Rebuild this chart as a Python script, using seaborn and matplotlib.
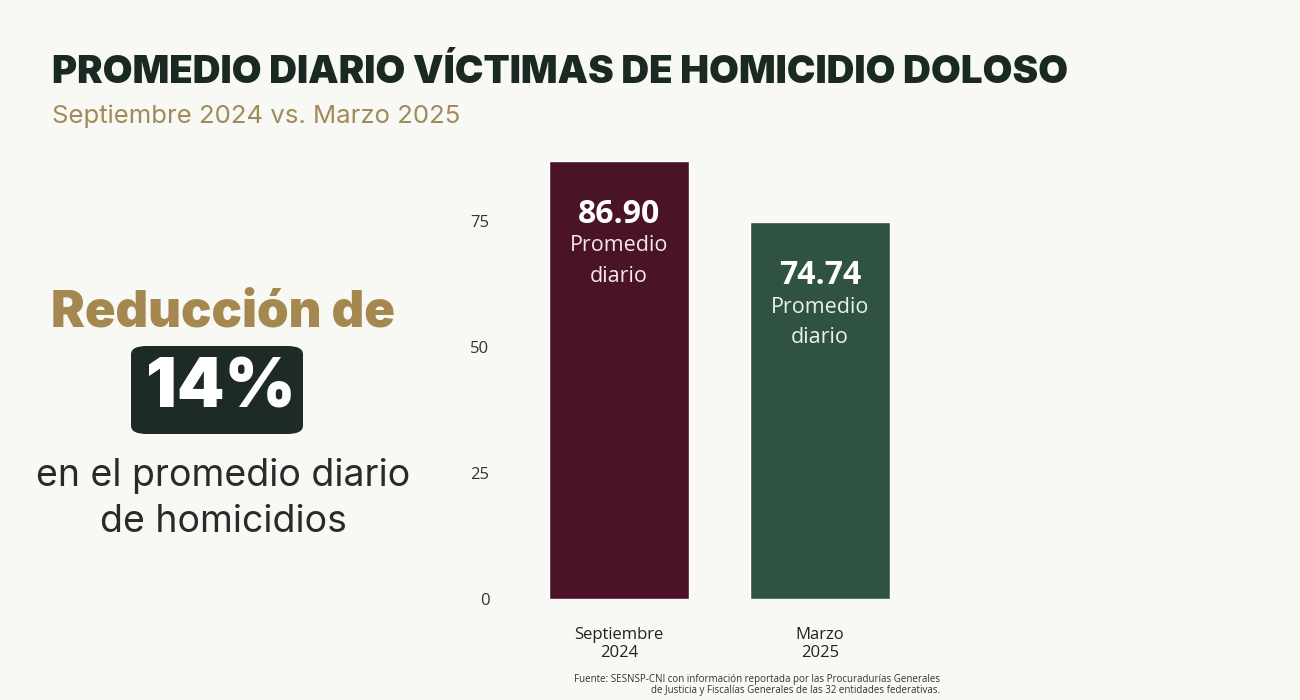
import matplotlib
matplotlib.use("Agg")
import matplotlib.pyplot as plt
import seaborn as sns
import pandas as pd
from matplotlib.patches import FancyBboxPatch

categories = ["Septiembre\n2024", "Marzo\n2025"]
values = [86.90, 74.74]
value_labels = ["86.90", "74.74"]
bar_colors = ["#4a1327", "#2f5241"]
yticks = [0, 25, 50, 75]

sns.set_theme(style="white")
plt.rcParams['font.family'] = ['Open Sans', 'DejaVu Sans']

bg = "#f8f8f4"
fig = plt.figure(figsize=(13, 7), dpi=100, facecolor=bg)
ax = fig.add_axes([0.399, 0.1443, 0.309, 0.6487])
ax.set_facecolor(bg)

df = pd.DataFrame({"cat": categories, "val": values})
sns.barplot(data=df, x="cat", y="val", hue="cat", palette=bar_colors,
            width=0.70, legend=False, ax=ax, saturation=1)
ax.set_xlim(-0.5, 1.5)
ax.set_ylim(0, 90)
ax.set_yticks(yticks)
ax.set_yticklabels([str(t) for t in yticks], fontsize=12, color="#333333")
ax.tick_params(axis="y", length=0, pad=21)
ax.tick_params(axis="x", length=0, pad=20, labelsize=12, labelcolor="#222222")
ax.set_xlabel("")
ax.set_ylabel("")
for s in ax.spines.values():
    s.set_visible(False)

for i, (v, lab) in enumerate(zip(values, value_labels)):
    sub_col = "#f2e8ee" if i == 0 else "#e8f2ec"
    ax.text(i, v - 10.7, lab, ha="center", va="center", fontsize=23,
            fontweight="bold", color="white")
    ax.text(i, v - 16.9, "Promedio", ha="center", va="center",
            fontsize=15.5, color=sub_col)
    ax.text(i, v - 23.0, "diario", ha="center", va="center",
            fontsize=15.5, color=sub_col)

# Titles
fig.text(52 / 1300, 1 - 73 / 700, "PROMEDIO DIARIO VÍCTIMAS DE HOMICIDIO DOLOSO",
         fontsize=27.7, fontweight="black", family=["Inter", "DejaVu Sans"],
         color="#1b2923", va="center", ha="left")
fig.text(52 / 1300, 1 - 116 / 700, "Septiembre 2024 vs. Marzo 2025",
         fontsize=18.5, family=["Inter", "DejaVu Sans"], color="#a08b5b",
         va="center", ha="left")

# Left panel
fig.text(223 / 1300, 1 - 313 / 700, "Reducción de", fontsize=36.5,
         fontweight="black", family=["Inter", "DejaVu Sans"], color="#a5884f",
         ha="center", va="center")
box = FancyBboxPatch((131 / 1300, 1 - 434 / 700), 172 / 1300, 88 / 700,
                     boxstyle="round,pad=0,rounding_size=0.012",
                     transform=fig.transFigure, facecolor="#1d2a25",
                     edgecolor="none")
fig.patches.append(box)
fig.text(221 / 1300, 1 - 390 / 700, "14%", fontsize=49, fontweight="black",
         family=["Inter", "DejaVu Sans"], color="white", ha="center", va="center")
fig.text(223 / 1300, 1 - 476 / 700, "en el promedio diario", fontsize=27,
         family=["Inter", "DejaVu Sans"], color="#2a2a2a", ha="center", va="center")
fig.text(223 / 1300, 1 - 522 / 700, "de homicidios", fontsize=27,
         family=["Inter", "DejaVu Sans"], color="#2a2a2a", ha="center", va="center")

# Source
fig.text(940 / 1300, 1 - 685 / 700,
         "Fuente: SESNSP-CNI con información reportada por las Procuradurías Generales\n"
         "de Justicia y Fiscalías Generales de las 32 entidades federativas.",
         fontsize=7.0, color="#333333", ha="right", va="center", linespacing=1.0,
         multialignment="right")

fig.savefig("out.png", dpi=100, facecolor=bg)
